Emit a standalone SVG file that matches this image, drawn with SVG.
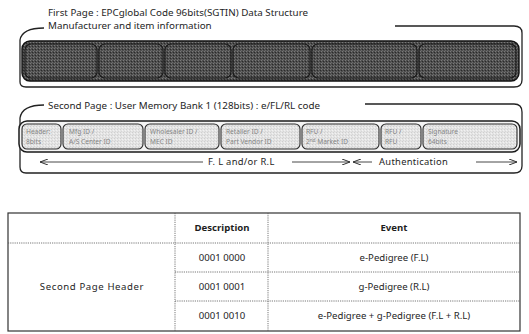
<svg xmlns="http://www.w3.org/2000/svg" width="529" height="334" viewBox="0 0 529 334">
  <style>
    .t { font-family: "Noto Sans", "Open Sans", sans-serif; fill: #1e1e1e; }
    .title { font-size: 9.8px; }
    .small { font-size: 6.6px; fill: #858585; }
    .cell { font-size: 9.6px; text-anchor: middle; }
    .bold { font-weight: bold; }
    .span { font-size: 9.4px; letter-spacing: 0.3px; }
    .bracket { fill: none; stroke: #222; stroke-width: 1.3; }
    .seg-dark { fill: url(#darkTex); stroke: #1a1a1a; stroke-width: 1.1; }
    .seg-light { fill: url(#lightTex); stroke: #2a2a2a; stroke-width: 1.1; }
    .conn { stroke: #333; stroke-width: 0.9; fill: none; }
    .grid { stroke: #555; stroke-width: 0.8; stroke-dasharray: 1.2 1; fill: none; }
  </style>
  <defs>
    <pattern id="darkTex" width="3" height="3" patternUnits="userSpaceOnUse">
      <rect width="3" height="3" fill="#4e4e4e"/>
      <rect x="0" y="0" width="1" height="1" fill="#7a7a7a"/>
      <rect x="2" y="1" width="1" height="1" fill="#2a2a2a"/>
      <rect x="1" y="2" width="1" height="1" fill="#6a6a6a"/>
    </pattern>
    <pattern id="lightTex" width="3" height="3" patternUnits="userSpaceOnUse">
      <rect width="3" height="3" fill="#e4e4e4"/>
      <rect x="0" y="0" width="1" height="1" fill="#cfcfcf"/>
      <rect x="2" y="1" width="1" height="1" fill="#f2f2f2"/>
      <rect x="1" y="2" width="1" height="1" fill="#d6d6d6"/>
    </pattern>
    <marker id="headR" viewBox="0 0 8 6" refX="8" refY="3" markerWidth="8" markerHeight="6" markerUnits="userSpaceOnUse" orient="auto">
      <path d="M0,0 L8,3 L0,6" fill="none" stroke="#333" stroke-width="1"/>
    </marker>
    <marker id="headL" viewBox="0 0 8 6" refX="0" refY="3" markerWidth="8" markerHeight="6" markerUnits="userSpaceOnUse" orient="auto">
      <path d="M8,0 L0,3 L8,6" fill="none" stroke="#333" stroke-width="1"/>
    </marker>
  </defs>

  <rect width="529" height="334" fill="#ffffff"/>

  <!-- First page: EPC bank -->
  <g id="first-page">
    <text class="t title" x="48" y="16">First Page : EPCglobal Code 96bits(SGTIN) Data Structure</text>
    <text class="t title" x="48" y="29">Manufacturer and item information</text>
    <path class="bracket" d="M44,28 Q22,28 20,40 L20,82 Q20,87 26,87 L514,87 Q522,87 522,80 L522,33 Q522,26 514,26 L395,26"/>
    <rect x="22" y="41" width="497" height="40" rx="8" fill="url(#darkTex)" stroke="#111" stroke-width="1.4"/>
    <rect class="seg-dark" x="25" y="44" width="72" height="34" rx="6"/>
    <rect class="seg-dark" x="99" y="44" width="64" height="34" rx="6"/>
    <rect class="seg-dark" x="165" y="44" width="66" height="34" rx="6"/>
    <rect class="seg-dark" x="233" y="44" width="77" height="34" rx="6"/>
    <rect class="seg-dark" x="312" y="44" width="105" height="34" rx="6"/>
    <rect class="seg-dark" x="419" y="44" width="97" height="34" rx="6"/>
  </g>

  <!-- Second page: user memory bank -->
  <g id="second-page">
    <text class="t title" font-size="10.6" x="48" y="109">Second Page : User Memory Bank 1 (128bits) : e/FL/RL code</text>
    <path class="bracket" d="M44,105 Q22,105 20,118 L20,167 Q20,173 26,173 L514,173 Q522,173 522,166 L522,112 Q522,104 514,104 L365,104"/>
    <rect x="19" y="121" width="501" height="31" rx="8" fill="#f4f4f4" stroke="#1a1a1a" stroke-width="1.5"/>
  </g>

  <g id="field-header">
    <rect class="seg-light" x="22" y="124" width="39" height="25" rx="5"/>
    <text class="t small" x="26" y="134">Header:</text>
    <text class="t small" x="26" y="144">8bits</text>
  </g>
  <g id="field-mfg">
    <rect class="seg-light" x="63" y="124" width="80" height="25" rx="5"/>
    <text class="t small" x="69" y="134">Mfg ID /</text>
    <text class="t small" x="69" y="144">A/S Center ID</text>
  </g>
  <g id="field-wholesaler">
    <rect class="seg-light" x="145" y="124" width="74" height="25" rx="5"/>
    <text class="t small" x="150" y="134">Wholesaler ID /</text>
    <text class="t small" x="150" y="144">MEC ID</text>
  </g>
  <g id="field-retailer">
    <rect class="seg-light" x="221" y="124" width="79" height="25" rx="5"/>
    <text class="t small" x="226" y="134">Retailer ID /</text>
    <text class="t small" x="226" y="144">Part Vendor ID</text>
  </g>
  <g id="field-rfu-market">
    <rect class="seg-light" x="302" y="124" width="77" height="25" rx="5"/>
    <text class="t small" x="306" y="134">RFU /</text>
    <text class="t small" x="306" y="144">2<tspan font-size="4.6" dy="-2">nd</tspan><tspan dy="2"> Market ID</tspan></text>
  </g>
  <g id="field-rfu">
    <rect class="seg-light" x="381" y="124" width="40" height="25" rx="5"/>
    <text class="t small" x="385" y="134">RFU /</text>
    <text class="t small" x="385" y="144">RFU</text>
  </g>
  <g id="field-signature">
    <rect class="seg-light" x="423" y="124" width="94" height="25" rx="5"/>
    <text class="t small" x="428" y="134">Signature</text>
    <text class="t small" x="428" y="144">64bits</text>
  </g>

  <!-- Span arrows under the user memory fields -->
  <g id="connectors">
    <line class="conn" x1="40" y1="162" x2="203" y2="162" marker-start="url(#headL)"/>
    <line class="conn" x1="292" y1="162" x2="350" y2="162" marker-end="url(#headR)"/>
    <line class="conn" x1="353" y1="162" x2="372" y2="162" marker-start="url(#headL)"/>
    <line class="conn" x1="476" y1="162" x2="517" y2="162" marker-end="url(#headR)"/>
  </g>
  <g id="span-labels">
    <text class="t span" x="208" y="165">F. L and/or R.L</text>
    <text class="t span" x="379" y="165">Authentication</text>
  </g>

  <!-- Header code table -->
  <g id="header-table">
    <rect x="8" y="213" width="512" height="118" fill="none" stroke="#333" stroke-width="1.2"/>
    <line class="grid" x1="8" y1="243" x2="520" y2="243"/>
    <line class="grid" x1="175" y1="272" x2="520" y2="272"/>
    <line class="grid" x1="175" y1="301" x2="520" y2="301"/>
    <line class="grid" x1="175" y1="213" x2="175" y2="331"/>
    <line class="grid" x1="268" y1="213" x2="268" y2="331"/>
    <text class="t cell bold" x="222" y="231">Description</text>
    <text class="t cell bold" x="394" y="231">Event</text>
    <text class="t cell" x="92" y="290" letter-spacing="0.6">Second Page Header</text>
    <text class="t cell" x="222" y="261">0001 0000</text>
    <text class="t cell" x="222" y="290">0001 0001</text>
    <text class="t cell" x="222" y="319">0001 0010</text>
    <text class="t cell" x="394" y="261">e-Pedigree (F.L)</text>
    <text class="t cell" x="394" y="290">g-Pedigree (R.L)</text>
    <text class="t cell" x="394" y="319">e-Pedigree + g-Pedigree (F.L + R.L)</text>
  </g>
</svg>
